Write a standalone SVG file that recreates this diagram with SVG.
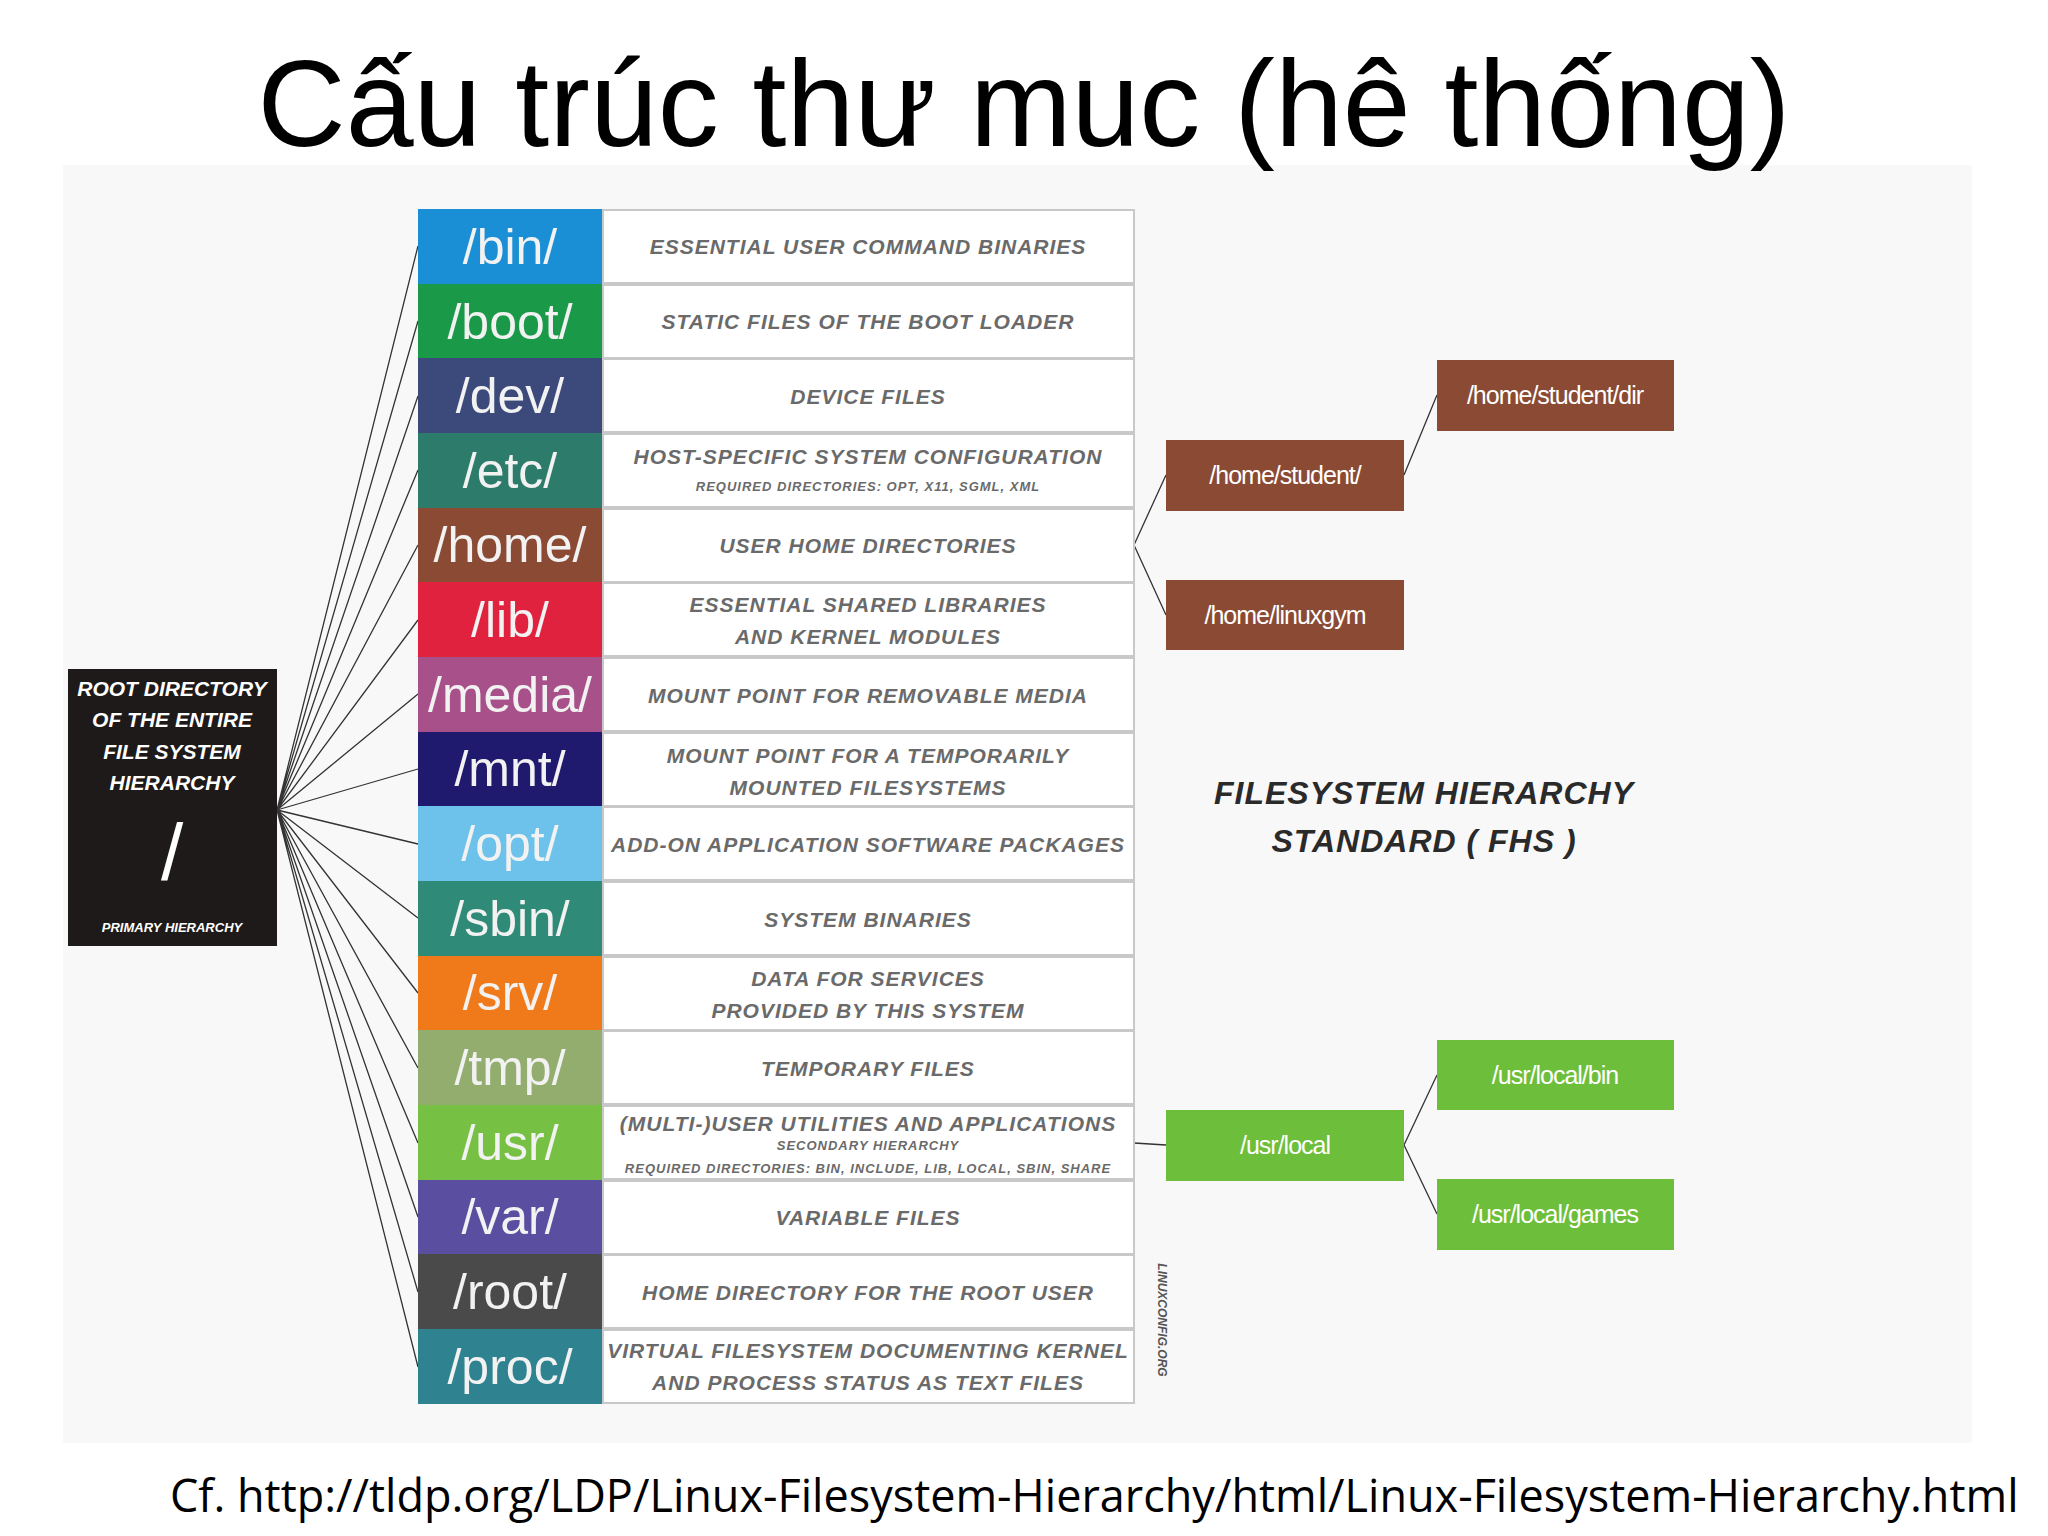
<svg xmlns="http://www.w3.org/2000/svg" width="2048" height="1536" viewBox="0 0 2048 1536">
<style>
.dir{font-family:"Liberation Sans",Arial,sans-serif;font-size:50px;fill:#f2f2f2;text-anchor:middle}
.desc{font-family:"Liberation Sans",Arial,sans-serif;font-size:21px;font-weight:bold;font-style:italic;fill:#6a6a6a;text-anchor:middle;letter-spacing:1px}
.sm{font-size:13px}
.dbox{fill:#fff;stroke:#c8c8c8;stroke-width:2}
.sub{font-family:"Liberation Sans",Arial,sans-serif;font-size:25px;fill:#fff;text-anchor:middle;letter-spacing:-1px}
.br{fill:#8a4a34}
.gr{fill:#6dbe3a}
.ln{stroke:#333;stroke-width:1.3;fill:none}
</style>
<rect width="2048" height="1536" fill="#fff"/>
<rect x="63" y="165" width="1909" height="1278" fill="#f8f8f8"/>
<text x="1024" y="146" font-family="Liberation Sans,Arial,sans-serif" font-size="122" text-anchor="middle" fill="#000">Cấu trúc thư muc (hê thống)</text>
<g id="connectors">
<path class="ln" d="M277 810L418 246M277 810L418 321M277 810L418 396M277 810L418 470M277 810L418 545M277 810L418 620M277 810L418 694M277 810L418 769M277 810L418 844M277 810L418 918M277 810L418 993M277 810L418 1068M277 810L418 1143M277 810L418 1217M277 810L418 1292M277 810L418 1367"/>
<path class="ln" d="M1134 545L1166 475M1134 545L1166 615M1404 475L1437 395M1134 1143L1166 1145M1404 1145L1437 1075M1404 1145L1437 1214"/>
</g>
<g id="root">
<rect x="68" y="669" width="209" height="277" fill="#1e1a1a"/>
<text font-family="Liberation Sans,Arial,sans-serif" font-weight="bold" font-style="italic" font-size="21" fill="#fff" text-anchor="middle"><tspan x="172" y="696">ROOT DIRECTORY</tspan><tspan x="172" y="727">OF THE ENTIRE</tspan><tspan x="172" y="759">FILE SYSTEM</tspan><tspan x="172" y="790">HIERARCHY</tspan></text>
<text x="172" y="880" font-family="Liberation Sans,Arial,sans-serif" font-size="80" fill="#fff" text-anchor="middle">/</text>
<text x="172" y="932" font-family="Liberation Sans,Arial,sans-serif" font-weight="bold" font-style="italic" font-size="13" fill="#fff" text-anchor="middle">PRIMARY HIERARCHY</text>
</g>
<g id="table">
<g id="bin"><rect x="418" y="209" width="185" height="75" fill="#1a8fd6"/><rect class="dbox" x="603" y="210" width="531" height="73"/><text class="dir" x="510" y="264">/bin/</text><text class="desc" x="868" y="254">ESSENTIAL USER COMMAND BINARIES</text></g>
<g id="boot"><rect x="418" y="284" width="185" height="75" fill="#1a9a48"/><rect class="dbox" x="603" y="285" width="531" height="73"/><text class="dir" x="510" y="339">/boot/</text><text class="desc" x="868" y="329">STATIC FILES OF THE BOOT LOADER</text></g>
<g id="dev"><rect x="418" y="358" width="185" height="75" fill="#3b4a7a"/><rect class="dbox" x="603" y="359" width="531" height="73"/><text class="dir" x="510" y="413">/dev/</text><text class="desc" x="868" y="404">DEVICE FILES</text></g>
<g id="etc"><rect x="418" y="433" width="185" height="75" fill="#2d7b6b"/><rect class="dbox" x="603" y="434" width="531" height="73"/><text class="dir" x="510" y="488">/etc/</text><text class="desc" x="868" y="464">HOST-SPECIFIC SYSTEM CONFIGURATION</text><text class="desc sm" x="868" y="491">REQUIRED DIRECTORIES: OPT, X11, SGML, XML</text></g>
<g id="home"><rect x="418" y="508" width="185" height="75" fill="#8a4a34"/><rect class="dbox" x="603" y="509" width="531" height="73"/><text class="dir" x="510" y="562">/home/</text><text class="desc" x="868" y="553">USER HOME DIRECTORIES</text></g>
<g id="lib"><rect x="418" y="582" width="185" height="75" fill="#e0223f"/><rect class="dbox" x="603" y="583" width="531" height="73"/><text class="dir" x="510" y="637">/lib/</text><text class="desc" x="868" y="612">ESSENTIAL SHARED LIBRARIES</text><text class="desc" x="868" y="644">AND KERNEL MODULES</text></g>
<g id="media"><rect x="418" y="657" width="185" height="75" fill="#a8508a"/><rect class="dbox" x="603" y="658" width="531" height="73"/><text class="dir" x="510" y="712">/media/</text><text class="desc" x="868" y="703">MOUNT POINT FOR REMOVABLE MEDIA</text></g>
<g id="mnt"><rect x="418" y="732" width="185" height="75" fill="#1f1a6e"/><rect class="dbox" x="603" y="733" width="531" height="73"/><text class="dir" x="510" y="786">/mnt/</text><text class="desc" x="868" y="763">MOUNT POINT FOR A TEMPORARILY</text><text class="desc" x="868" y="795">MOUNTED FILESYSTEMS</text></g>
<g id="opt"><rect x="418" y="806" width="185" height="75" fill="#6cc2ea"/><rect class="dbox" x="603" y="807" width="531" height="73"/><text class="dir" x="510" y="861">/opt/</text><text class="desc" x="868" y="852">ADD-ON APPLICATION SOFTWARE PACKAGES</text></g>
<g id="sbin"><rect x="418" y="881" width="185" height="75" fill="#2f8a78"/><rect class="dbox" x="603" y="882" width="531" height="73"/><text class="dir" x="510" y="936">/sbin/</text><text class="desc" x="868" y="927">SYSTEM BINARIES</text></g>
<g id="srv"><rect x="418" y="956" width="185" height="75" fill="#f07a1a"/><rect class="dbox" x="603" y="957" width="531" height="73"/><text class="dir" x="510" y="1010">/srv/</text><text class="desc" x="868" y="986">DATA FOR SERVICES</text><text class="desc" x="868" y="1018">PROVIDED BY THIS SYSTEM</text></g>
<g id="tmp"><rect x="418" y="1030" width="185" height="75" fill="#93ad6f"/><rect class="dbox" x="603" y="1031" width="531" height="73"/><text class="dir" x="510" y="1085">/tmp/</text><text class="desc" x="868" y="1076">TEMPORARY FILES</text></g>
<g id="usr"><rect x="418" y="1105" width="185" height="75" fill="#76c043"/><rect class="dbox" x="603" y="1106" width="531" height="73"/><text class="dir" x="510" y="1160">/usr/</text><text class="desc" x="868" y="1131">(MULTI-)USER UTILITIES AND APPLICATIONS</text><text class="desc sm" x="868" y="1150">SECONDARY HIERARCHY</text><text class="desc sm" x="868" y="1173">REQUIRED DIRECTORIES: BIN, INCLUDE, LIB, LOCAL, SBIN, SHARE</text></g>
<g id="var"><rect x="418" y="1180" width="185" height="75" fill="#5a4ea0"/><rect class="dbox" x="603" y="1181" width="531" height="73"/><text class="dir" x="510" y="1234">/var/</text><text class="desc" x="868" y="1225">VARIABLE FILES</text></g>
<g id="rootdir"><rect x="418" y="1254" width="185" height="75" fill="#4a4a4a"/><rect class="dbox" x="603" y="1255" width="531" height="73"/><text class="dir" x="510" y="1309">/root/</text><text class="desc" x="868" y="1300">HOME DIRECTORY FOR THE ROOT USER</text></g>
<g id="proc"><rect x="418" y="1329" width="185" height="75" fill="#2f8290"/><rect class="dbox" x="603" y="1330" width="531" height="73"/><text class="dir" x="510" y="1384">/proc/</text><text class="desc" x="868" y="1358">VIRTUAL FILESYSTEM DOCUMENTING KERNEL</text><text class="desc" x="868" y="1390">AND PROCESS STATUS AS TEXT FILES</text></g>
</g>
<text transform="translate(1158 1320) rotate(90)" font-family="Liberation Sans,Arial,sans-serif" font-weight="bold" font-style="italic" font-size="12" fill="#555" text-anchor="middle">LINUXCONFIG.ORG</text>
<g id="home-student"><rect class="br" x="1166" y="440" width="238" height="71"/><text class="sub" x="1285" y="484">/home/student/</text></g>
<g id="home-linuxgym"><rect class="br" x="1166" y="580" width="238" height="70"/><text class="sub" x="1285" y="624">/home/linuxgym</text></g>
<g id="home-student-dir"><rect class="br" x="1437" y="360" width="237" height="71"/><text class="sub" x="1555" y="404">/home/student/dir</text></g>
<g id="usr-local"><rect class="gr" x="1166" y="1110" width="238" height="71"/><text class="sub" x="1285" y="1154">/usr/local</text></g>
<g id="usr-local-bin"><rect class="gr" x="1437" y="1040" width="237" height="70"/><text class="sub" x="1555" y="1084">/usr/local/bin</text></g>
<g id="usr-local-games"><rect class="gr" x="1437" y="1179" width="237" height="71"/><text class="sub" x="1555" y="1223">/usr/local/games</text></g>
<text font-family="Liberation Sans,Arial,sans-serif" font-weight="bold" font-style="italic" font-size="32" fill="#2a2a2a" text-anchor="middle" letter-spacing="1"><tspan x="1424" y="804">FILESYSTEM HIERARCHY</tspan><tspan x="1424" y="852">STANDARD ( FHS )</tspan></text>
<text x="170" y="1512" font-family="Open Sans,Liberation Sans,sans-serif" font-size="45" fill="#000">Cf. http://tldp.org/LDP/Linux-Filesystem-Hierarchy/html/Linux-Filesystem-Hierarchy.html</text>
</svg>
